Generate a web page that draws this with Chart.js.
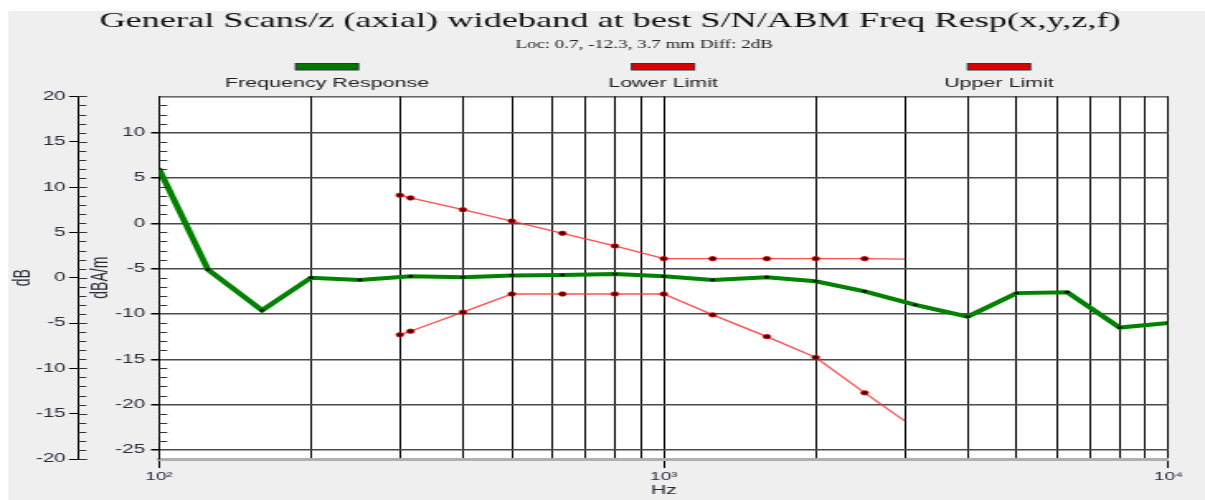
<!DOCTYPE html>
<html>
<head>
<meta charset="utf-8">
<script src="https://cdn.jsdelivr.net/npm/chart.js@4.4.1/dist/chart.umd.min.js"></script>
<style>
  html, body { margin: 0; padding: 0; background: #ffffff; overflow: hidden; }
  #wrap { position: absolute; left: 0; top: 0; width: 730px; height: 500px;
          transform: scaleX(1.6507); transform-origin: 0 0; }
  #c { display: block; width: 730px; height: 500px; }
</style>
</head>
<body>
<div id="wrap"><canvas id="c" width="730" height="500"></canvas></div>
<script>
// ---- data ----
const respFreq = [100, 125, 160, 200, 250, 315, 400, 500, 630, 800, 1000, 1250, 1600, 2000, 2500, 3150, 4000, 5000, 6300, 8000, 10000];
const respDb   = [6.0, -5.1, -9.6, -6.0, -6.25, -5.85, -5.95, -5.75, -5.7, -5.6, -5.85, -6.25, -5.95, -6.4, -7.5, -9.0, -10.3, -7.7, -7.6, -11.5, -11.0];

const limitFreq = [300, 315, 400, 500, 630, 800, 1000, 1250, 1600, 2000, 2500, 3000];
const lowerDb   = [-12.3, -11.9, -9.8, -7.8, -7.8, -7.8, -7.8, -10.1, -12.5, -14.8, -18.7, -21.8];
const upperDb   = [3.1, 2.8, 1.5, 0.25, -1.1, -2.5, -3.9, -3.9, -3.9, -3.9, -3.9, -3.95];

const xTickValues = [100, 200, 300, 400, 500, 600, 700, 800, 900, 1000, 2000, 3000, 4000, 5000, 6000, 7000, 8000, 9000, 10000];
const xTickLabels = { 100: '10\u00B2', 1000: '10\u00B3', 10000: '10\u2074' };
const yTickValues  = [-25, -20, -15, -10, -5, 0, 5, 10];
const y2TickValues = [-20, -15, -10, -5, 0, 5, 10, 15, 20];

const titleText = 'General Scans/z (axial) wideband at best S/N/ABM Freq Resp(x,y,z,f)';
const subtitleText = 'Loc: 0.7, -12.3, 3.7 mm Diff: 2dB';
const legendNames = ['Frequency Response', 'Lower Limit', 'Upper Limit'];
const legendColors = ['#007800', '#dd0000', '#dd0000'];

const SX = 1.6507;           // horizontal stretch of the whole picture
const SANS = '"Liberation Sans", Arial, sans-serif';
const SERIF = '"Liberation Serif", "Times New Roman", serif';

const toXY = (xs, ys) => xs.map((x, i) => ({ x: x, y: ys[i] }));

const backgroundPlugin = {
  id: 'bg',
  afterLayout(chart) {
    // centre title and subtitle where the reference has them
    const targets = [[titleText, 610 / SX], [subtitleText, 644 / SX]];
    chart.boxes.forEach(b => {
      if (!b.options || typeof b.options.text !== 'string') return;
      targets.forEach(([t, c]) => {
        if (b.options.text === t) {
          const d = c - (b.left + b.right) / 2;
          b.left += d; b.right += d;
        }
      });
    });
  },
  beforeDraw(chart) {
    const { ctx, chartArea } = chart;
    ctx.save();
    ctx.fillStyle = '#ffffff';
    ctx.fillRect(0, 0, chart.width, chart.height);
    ctx.fillStyle = '#efefef';
    ctx.fillRect(8 / SX, 11, chart.width, chart.height);
    ctx.fillStyle = '#ffffff';
    ctx.fillRect(chartArea.left, chartArea.top, chartArea.right - chartArea.left, chartArea.bottom - chartArea.top);
    ctx.restore();
  }
};

const decorPlugin = {
  id: 'decor',
  afterDraw(chart) {
    const { ctx, chartArea } = chart;
    const y = chart.scales.y, y2 = chart.scales.y2;
    ctx.save();
    // top frame line
    ctx.strokeStyle = '#111';
    ctx.lineWidth = 1;
    ctx.beginPath();
    ctx.moveTo(chartArea.left, chartArea.top + 0.5);
    ctx.lineTo(chartArea.right, chartArea.top + 0.5);
    ctx.stroke();
    // inner axis minor ticks (inside the plot)
    ctx.strokeStyle = '#333';
    for (let v = Math.ceil(y.min); v < y.max; v++) {
      if (v % 5 === 0 || v <= y.min) continue;
      const py = Math.round(y.getPixelForValue(v)) + 0.5;
      ctx.beginPath();
      ctx.moveTo(chartArea.left, py);
      ctx.lineTo(chartArea.left + 5, py);
      ctx.stroke();
    }
    // outer axis ticks pointing right
    for (let v = y2.min; v <= y2.max; v++) {
      const py = Math.round(y2.getPixelForValue(v)) + 0.5;
      const len = (v % 5 === 0) ? 5.5 : 5;
      ctx.beginPath();
      ctx.moveTo(y2.right, py);
      ctx.lineTo(y2.right + len, py);
      ctx.stroke();
    }
    // legend: bar above label
    const centers = [327 / SX, 663 / SX, 999 / SX];
    ctx.font = '13px ' + SANS;
    ctx.textAlign = 'center';
    ctx.textBaseline = 'middle';
    legendNames.forEach((name, i) => {
      const cx = centers[i];
      ctx.fillStyle = legendColors[i];
      ctx.fillRect(cx - 19, 63, 38, 7);
      ctx.strokeStyle = '#333';
      ctx.lineWidth = 1;
      ctx.strokeRect(cx - 19, 63.5, 38, 6.5);
      ctx.fillStyle = '#222';
      ctx.fillText(name, cx, 83);
    });
    ctx.restore();
  }
};

new Chart(document.getElementById('c'), {
  type: 'line',
  data: {
    datasets: [
      {
        label: legendNames[0],
        data: toXY(respFreq, respDb),
        borderColor: '#008200',
        borderWidth: 4,
        pointRadius: 1.4,
        pointBackgroundColor: '#000',
        pointBorderWidth: 0,
        tension: 0,
        order: 2
      },
      {
        label: legendNames[1],
        data: toXY(limitFreq, lowerDb),
        borderColor: 'rgba(255,50,50,0.85)',
        borderWidth: 1.3,
        pointRadius: limitFreq.map((f, i) => i === limitFreq.length - 1 ? 0 : 2.2),
        pointBackgroundColor: '#400',
        pointBorderColor: 'rgba(230,0,0,0.85)',
        pointBorderWidth: 1,
        tension: 0,
        order: 1
      },
      {
        label: legendNames[2],
        data: toXY(limitFreq, upperDb),
        borderColor: 'rgba(255,50,50,0.85)',
        borderWidth: 1.3,
        pointRadius: limitFreq.map((f, i) => i === limitFreq.length - 1 ? 0 : 2.2),
        pointBackgroundColor: '#400',
        pointBorderColor: 'rgba(230,0,0,0.85)',
        pointBorderWidth: 1,
        tension: 0,
        order: 1
      }
    ]
  },
  options: {
    responsive: false,
    animation: false,
    devicePixelRatio: 1,
    layout: { padding: { top: 8, right: 22.1, bottom: 0, left: 0 } },
    plugins: {
      legend: { display: false },
      tooltip: { enabled: false },
      title: {
        display: true,
        text: titleText,
        color: '#111',
        font: { family: SERIF, size: 22, weight: 'normal' },
        padding: { top: 0.5, bottom: 0.5 }
      },
      subtitle: {
        display: true,
        text: subtitleText,
        color: '#222',
        font: { family: SERIF, size: 11.5, weight: 'normal' },
        padding: { top: 3, bottom: 44.2 }
      }
    },
    scales: {
      x: {
        type: 'logarithmic',
        position: 'bottom',
        min: 100,
        max: 10000,
        afterBuildTicks: s => { s.ticks = xTickValues.map(v => ({ value: v })); },
        afterFit: s => { s.height = 41; },
        ticks: {
          autoSkip: false,
          maxRotation: 0,
          padding: 2,
          color: '#2a2a3a',
          font: { family: SANS, size: 11.5 },
          callback: v => xTickLabels[v] || ''
        },
        grid: {
          color: '#000',
          lineWidth: 1,
          tickLength: 9,
          tickColor: c => (c.tick && xTickLabels[c.tick.value]) ? '#000' : 'rgba(0,0,0,0)'
        },
        border: { display: true, color: '#b0b0b0', width: 3 },
        title: {
          display: true,
          text: 'Hz',
          color: '#2a2a3a',
          font: { family: SANS, size: 13 },
          padding: { top: 0, bottom: 2.2 }
        }
      },
      y: {
        type: 'linear',
        position: 'left',
        weight: 0,
        min: -26,
        max: 14,
        afterBuildTicks: s => { s.ticks = yTickValues.map(v => ({ value: v })); },
        afterFit: s => { s.width = 49; },
        ticks: {
          padding: 3.6,
          color: '#2a2a3a',
          font: { family: SANS, size: 12.5 },
          callback: v => String(v)
        },
        grid: {
          color: '#4a4a4a',
          lineWidth: 1.5,
          tickLength: 4.85,
          tickColor: '#000'
        },
        border: { display: true, color: '#000', width: 1 },
        title: {
          display: true,
          text: 'dBA/m',
          color: '#2a2a3a',
          font: { family: SANS, size: 14 },
          padding: { top: 5.5, bottom: 0 }
        }
      },
      y2: {
        type: 'linear',
        position: 'left',
        weight: 10,
        min: -20,
        max: 20,
        afterBuildTicks: s => { s.ticks = y2TickValues.map(v => ({ value: v })); },
        afterFit: s => { s.width = 47.3; },
        ticks: {
          padding: 2,
          color: '#2a2a3a',
          font: { family: SANS, size: 12.5 },
          callback: v => String(v)
        },
        grid: {
          drawOnChartArea: false,
          tickLength: 5.5,
          tickColor: '#000'
        },
        border: { display: true, color: '#000', width: 1 },
        title: {
          display: true,
          text: 'dB',
          color: '#2a2a3a',
          font: { family: SANS, size: 14 },
          padding: { top: 6, bottom: 0 }
        }
      }
    }
  },
  plugins: [backgroundPlugin, decorPlugin]
});
</script>
</body>
</html>
